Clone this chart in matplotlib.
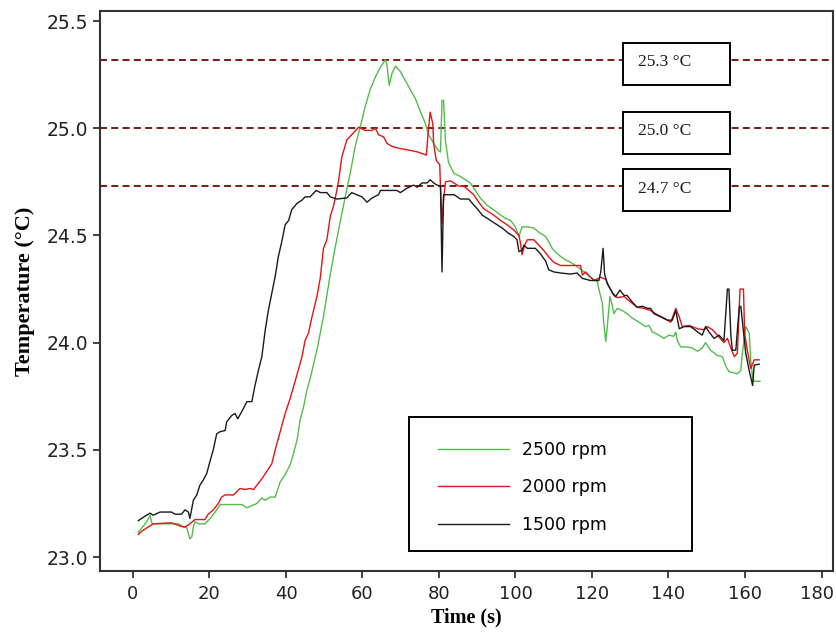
import matplotlib
matplotlib.use("Agg")
import matplotlib.pyplot as plt
from matplotlib.patches import Rectangle
from matplotlib.transforms import ScaledTranslation

# ── data ────────────────────────────────────────────────────────────
t_1500 = [1.4, 3.1, 4.5, 5.3, 7.1, 10.1, 11.0, 12.7, 13.6, 14.5, 14.9, 15.8, 16.7, 17.5,
          18.4, 19.3, 20.2, 21.0, 21.9, 22.8, 24.1, 24.5, 25.8, 26.7, 27.4, 28.5, 29.8,
          31.1, 31.9, 32.8, 33.7, 34.6, 35.4, 36.3, 37.2, 38.0, 38.9, 39.8, 40.7, 41.5,
          42.9, 44.2, 45.0, 46.3, 47.9, 49.0, 50.7, 51.6, 53.3, 55.9, 57.2, 58.5, 59.9,
          61.2, 62.5, 64.2, 64.7, 69.0, 69.9, 71.6, 73.4, 74.3, 75.6, 76.9, 77.7, 78.6,
          79.5, 80.4, 80.8, 81.2, 81.7, 84.0, 85.6, 87.8, 88.7, 90.0, 91.3, 92.6, 93.9,
          95.2, 96.5, 98.2, 99.6, 100.4, 100.9, 101.7, 102.2, 103.1, 105.2, 106.5, 107.9,
          108.7, 110.0, 111.8, 114.4, 116.1, 117.5, 119.6, 121.8, 122.3, 122.9, 123.3,
          124.0, 125.3, 126.2, 127.3, 128.4, 129.2, 130.5, 131.8, 133.2, 134.5, 135.3,
          136.2, 138.0, 139.7, 141.0, 141.9, 142.8, 144.1, 145.8, 147.6, 148.8, 149.7,
          150.6, 151.9, 153.2, 154.5, 155.4, 155.8, 156.3, 156.7, 157.6, 158.5, 158.9,
          159.6, 160.2, 161.1, 162.0, 162.4, 163.7]
temp_1500 = [23.17, 23.19, 23.205, 23.195, 23.21, 23.21, 23.20, 23.20, 23.22, 23.21, 23.18,
             23.265, 23.29, 23.335, 23.36, 23.39, 23.45, 23.50, 23.575, 23.585, 23.59, 23.63,
             23.66, 23.67, 23.645, 23.68, 23.725, 23.725, 23.80, 23.87, 23.935, 24.06, 24.15,
             24.23, 24.31, 24.40, 24.47, 24.55, 24.57, 24.62, 24.65, 24.665, 24.68, 24.68,
             24.71, 24.70, 24.70, 24.68, 24.67, 24.675, 24.70, 24.69, 24.68, 24.655, 24.675,
             24.69, 24.71, 24.71, 24.70, 24.72, 24.735, 24.725, 24.745, 24.745, 24.76, 24.745,
             24.735, 24.73, 24.33, 24.69, 24.69, 24.69, 24.67, 24.67, 24.65, 24.625, 24.595,
             24.58, 24.565, 24.55, 24.535, 24.51, 24.495, 24.48, 24.425, 24.43, 24.455, 24.44,
             24.44, 24.415, 24.38, 24.34, 24.33, 24.325, 24.32, 24.325, 24.30, 24.29, 24.29,
             24.33, 24.44, 24.32, 24.275, 24.235, 24.215, 24.245, 24.22, 24.22, 24.19, 24.165,
             24.17, 24.16, 24.16, 24.135, 24.12, 24.105, 24.105, 24.15, 24.065, 24.075, 24.075,
             24.05, 24.035, 24.075, 24.05, 24.02, 24.035, 24.01, 24.25, 24.25, 24.035, 23.965,
             23.965, 24.165, 24.17, 24.05, 23.95, 23.87, 23.80, 23.895, 23.90]

t_2000 = [1.4, 2.3, 3.1, 4.0, 5.3, 10.1, 12.3, 13.6, 14.9, 16.2, 18.8, 19.7, 21.0, 22.3,
          23.2, 24.1, 26.3, 28.0, 29.3, 30.6, 31.5, 32.4, 33.7, 35.0, 36.3, 37.2, 38.5,
          39.8, 41.1, 42.4, 44.2, 45.0, 45.9, 46.8, 48.1, 49.0, 49.8, 50.7, 51.6, 52.4,
          53.3, 53.8, 54.6, 55.9, 57.2, 59.0, 60.7, 62.5, 63.4, 64.2, 65.5, 66.4, 67.7,
          69.9, 71.6, 74.3, 76.0, 76.7, 77.3, 77.7, 78.4, 78.6, 79.3, 80.2, 80.4, 80.8,
          81.2, 81.7, 83.0, 83.9, 85.2, 86.5, 87.8, 89.1, 90.4, 91.7, 93.0, 94.3, 96.1,
          97.8, 99.6, 100.9, 101.3, 101.7, 102.4, 103.1, 104.8, 106.1, 107.4, 108.7, 110.0,
          111.8, 113.5, 115.3, 117.0, 117.5, 118.3, 120.5, 122.3, 123.6, 124.5, 125.7,
          126.6, 128.4, 130.1, 131.8, 133.6, 135.3, 137.1, 138.8, 140.6, 141.9, 142.8,
          143.6, 145.4, 147.6, 149.3, 150.2, 151.5, 152.8, 154.5, 155.4, 156.3, 157.2,
          158.0, 158.7, 159.6, 159.9, 160.6, 161.5, 162.4, 163.7]
temp_2000 = [23.105, 23.12, 23.13, 23.14, 23.155, 23.16, 23.145, 23.14, 23.155, 23.175, 23.175,
             23.20, 23.22, 23.25, 23.28, 23.29, 23.29, 23.32, 23.315, 23.32, 23.315, 23.335,
             23.365, 23.40, 23.435, 23.50, 23.585, 23.67, 23.74, 23.82, 23.935, 24.01, 24.045,
             24.12, 24.215, 24.305, 24.44, 24.48, 24.59, 24.635, 24.71, 24.76, 24.865, 24.945,
             24.97, 25.005, 24.99, 24.99, 25.0, 24.97, 24.96, 24.93, 24.915, 24.905, 24.90,
             24.89, 24.88, 24.875, 25.005, 25.075, 25.02, 24.93, 24.85, 24.83, 24.725, 24.555,
             24.665, 24.75, 24.755, 24.745, 24.73, 24.73, 24.71, 24.69, 24.655, 24.625, 24.61,
             24.595, 24.57, 24.55, 24.525, 24.50, 24.465, 24.41, 24.455, 24.48, 24.48, 24.455,
             24.43, 24.40, 24.375, 24.36, 24.36, 24.36, 24.36, 24.315, 24.33, 24.29, 24.305,
             24.295, 24.26, 24.22, 24.21, 24.215, 24.19, 24.165, 24.16, 24.15, 24.13, 24.115,
             24.095, 24.16, 24.12, 24.075, 24.08, 24.065, 24.06, 24.075, 24.06, 24.035, 24.0,
             24.02, 23.975, 23.935, 23.95, 24.25, 24.25, 24.045, 23.965, 23.88, 23.92, 23.92]

t_2500 = [1.4, 2.3, 3.6, 4.5, 5.0, 11.9, 13.2, 14.0, 14.9, 15.4, 15.8, 16.2, 17.1, 18.8,
          20.2, 21.5, 22.8, 28.5, 29.8, 31.1, 32.4, 33.7, 34.6, 35.9, 37.2, 38.5, 39.8,
          41.1, 42.0, 42.9, 43.7, 44.6, 45.5, 46.3, 48.1, 49.8, 51.6, 52.9, 54.2, 55.5,
          56.8, 58.1, 59.4, 60.7, 62.0, 63.4, 64.7, 66.0, 66.4, 67.0, 67.7, 68.6, 69.9,
          71.6, 73.8, 75.1, 76.4, 77.3, 78.6, 79.9, 80.4, 80.8, 81.2, 81.7, 82.5, 83.9,
          85.6, 86.9, 88.2, 89.5, 90.8, 92.6, 94.3, 96.1, 97.4, 98.7, 100.0, 100.9, 101.7,
          103.1, 104.8, 106.1, 107.9, 108.7, 109.6, 110.9, 112.7, 114.4, 116.1, 117.9,
          119.6, 121.4, 121.8, 122.7, 123.1, 123.6, 124.0, 124.7, 125.3, 125.7, 126.6,
          127.9, 129.2, 130.5, 132.3, 134.0, 134.9, 135.8, 137.5, 138.8, 140.1, 141.4,
          141.9, 142.3, 143.2, 144.9, 146.2, 147.6, 148.8, 149.7, 151.0, 152.8, 154.1,
          155.0, 155.8, 158.0, 158.9, 159.3, 160.2, 161.1, 161.5, 162.0, 162.4, 163.9]
temp_2500 = [23.115, 23.135, 23.165, 23.195, 23.155, 23.155, 23.14, 23.14, 23.085, 23.095,
             23.14, 23.165, 23.155, 23.155, 23.18, 23.21, 23.245, 23.245, 23.23, 23.24, 23.25,
             23.275, 23.265, 23.28, 23.28, 23.35, 23.385, 23.43, 23.485, 23.545, 23.64, 23.70,
             23.78, 23.83, 23.965, 24.12, 24.32, 24.447, 24.565, 24.68, 24.79, 24.915, 25.005,
             25.10, 25.18, 25.24, 25.285, 25.32, 25.295, 25.20, 25.255, 25.29, 25.265, 25.21,
             25.14, 25.08, 25.025, 24.97, 24.93, 24.895, 24.89, 25.13, 25.13, 24.94, 24.84,
             24.79, 24.775, 24.76, 24.745, 24.71, 24.675, 24.64, 24.62, 24.595, 24.58, 24.57,
             24.54, 24.495, 24.54, 24.54, 24.535, 24.515, 24.495, 24.47, 24.44, 24.415, 24.39,
             24.375, 24.355, 24.33, 24.305, 24.285, 24.25, 24.185, 24.09, 24.005, 24.075,
             24.215, 24.175, 24.135, 24.16, 24.15, 24.135, 24.115, 24.095, 24.075, 24.08,
             24.05, 24.035, 24.02, 24.035, 24.03, 24.05, 24.01, 23.98, 23.98, 23.975, 23.96,
             23.975, 24.0, 23.965, 23.94, 23.935, 23.89, 23.865, 23.855, 23.87, 23.95, 24.075,
             24.045, 23.92, 23.835, 23.82, 23.82]

levels = [25.32, 25.0, 24.73]
level_labels = ["25.3 °C", "25.0 °C", "24.7 °C"]
series_labels = ["2500 rpm", "2000 rpm", "1500 rpm"]

x_ticks = list(range(0, 181, 20))
y_ticks = [23.0, 23.5, 24.0, 24.5, 25.0, 25.5]


def main() -> None:
    fig = plt.figure(figsize=(8.37, 6.39), dpi=100)
    ax = fig.add_axes([0.1195, 0.1064, 0.8757, 0.8764])

    ax.plot(t_2500, temp_2500, color="#52bd4a", lw=1.0, label=series_labels[0])
    ax.plot(t_2000, temp_2000, color="#e01515", lw=1.0, label=series_labels[1])
    ax.plot(t_1500, temp_1500, color="#1a1a1a", lw=1.0, label=series_labels[2])

    # reference levels with boxed labels
    for lvl, txt in zip(levels, level_labels):
        ax.axhline(lvl, color="#7a1a10", lw=1.4, ls=(0, (3.6, 2.2)), zorder=1)
        ax.add_patch(Rectangle((128.0, lvl - 0.118), 28.0, 0.196,
                               facecolor="white", edgecolor="black", lw=1.4, zorder=3))
        ax.text(132.0, lvl - 0.012, txt, ha="left", va="center", fontsize=12.5,
                family="Liberation Serif", color="#1a1a1a", zorder=4)

    ax.set_xlim(-8.6, 183.0)
    ax.set_ylim(22.935, 25.547)
    ax.set_xticks(x_ticks)
    ax.set_yticks(y_ticks)
    ax.set_yticklabels([f"{v:.1f}" for v in y_ticks])
    ax.tick_params(direction="out", length=5, width=1.2, labelsize=13.5,
                   colors="#222222")
    ax.tick_params(axis="x", pad=5, labelsize=13)
    for s in ax.spines.values():
        s.set_linewidth(1.5)
        s.set_color("#333333")

    # last x label sits right at the figure edge; nudge it in a little
    last = ax.get_xticklabels()[-1]
    last.set_transform(last.get_transform() + ScaledTranslation(-3 / 72, 0, fig.dpi_scale_trans))

    ax.set_xlabel("Time (s)", family="Liberation Serif", fontweight="bold",
                  fontsize=14.5, labelpad=3)
    ax.set_ylabel("Temperature (°C)", family="Liberation Serif", fontweight="bold",
                  fontsize=16, labelpad=8)

    # legend: own frame, entries placed inside it
    ax.add_patch(Rectangle((0.4216, 0.0357), 0.386, 0.239, transform=ax.transAxes,
                           facecolor="white", edgecolor="black", lw=1.4, zorder=5))
    ax.legend(loc="upper left", bbox_to_anchor=(0.4611, 0.2325), borderaxespad=0,
              borderpad=0, fontsize=12.5, handlelength=4.1, handletextpad=0.72,
              labelspacing=1.12, frameon=False).set_zorder(6)

    fig.savefig("out.png", dpi=100)


if __name__ == "__main__":
    main()
